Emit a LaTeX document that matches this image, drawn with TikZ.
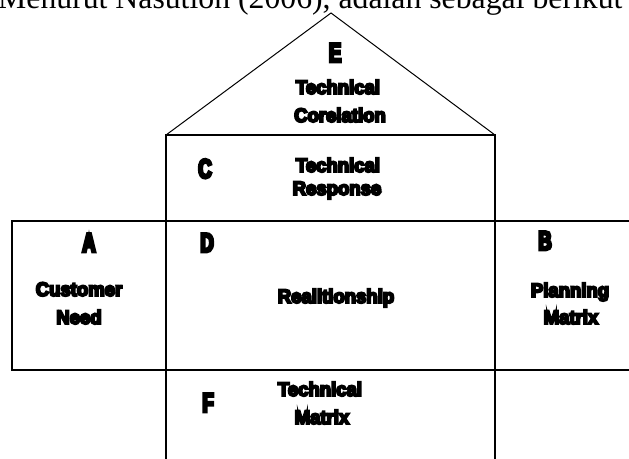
\documentclass[tikz,border=0pt]{standalone}
\usepackage{fontspec}
\setmainfont{Liberation Serif}
\newfontfamily\heavy[FakeBold=10,FakeStretch=0.95]{Liberation Sans Bold}
\newfontfamily\heavyletter[FakeBold=10,FakeStretch=0.68]{Liberation Sans Bold}
\begin{document}
\begin{tikzpicture}[x=1pt,y=-1pt,
  frame/.style={line width=1.6pt,line cap=rect},
  roof/.style={line width=1pt,line join=miter},
  letter/.style={anchor=base,inner sep=0pt,font=\heavyletter\fontsize{27}{27}\selectfont},
  caption/.style={anchor=base,inner sep=0pt,font=\heavy\fontsize{19.5}{19.5}\selectfont}]
\useasboundingbox (0,0) rectangle (629,458);
\clip (0,0) rectangle (629,458);

% running text above the house
\node[anchor=base west,inner sep=0pt,font=\fontsize{31.75}{32}\selectfont] (intro) at (-2,8)
  {Menurut Nasution (2006), adalah sebagai berikut};

% corner points of the house
\coordinate (peak) at (331,13);
\coordinate (eaveL) at (166,135);
\coordinate (eaveR) at (495,135);
\coordinate (footL) at (166,460);
\coordinate (footR) at (495,460);
\coordinate (rowTopL) at (12,221);
\coordinate (rowTopR) at (631,221);
\coordinate (rowBotL) at (12,370);
\coordinate (rowBotR) at (631,370);

% roof
\draw[roof] (eaveL) -- (peak) -- (eaveR);
% walls and ceiling
\draw[frame] (footL) -- (eaveL) -- (eaveR) -- (footR);
% middle row across the house
\draw[frame] (rowTopR) -- (rowTopL) -- (rowBotL) -- (rowBotR);

% section letters
\node[letter] (E) at (335,62) {E};
\node[letter] (C) at (205,178) {C};
\node[letter] (A) at (89,252) {A};
\node[letter] (D) at (207,252) {D};
\node[letter] (B) at (545,250) {B};
\node[letter] (F) at (208,412) {F};

% section captions
\node[caption] (e1) at (338,94) {Technical};
\node[caption] (e2) at (340,122) {Corelation};
\node[caption] (c1) at (338,172) {Technical};
\node[caption] (c2) at (337,195) {Response};
\node[caption] (a1) at (79,296) {Customer};
\node[caption] (a2) at (79,324) {Need};
\node[caption] (d1) at (336,303) {Realitionship};
\node[caption] (b1) at (570,297) {Planning};
\node[caption] (b2) at (571,324) {Matrix};
\node[caption] (f1) at (320,396) {Technical};
\node[caption] (f2) at (322,424) {Matrix};
\end{tikzpicture}
\end{document}
